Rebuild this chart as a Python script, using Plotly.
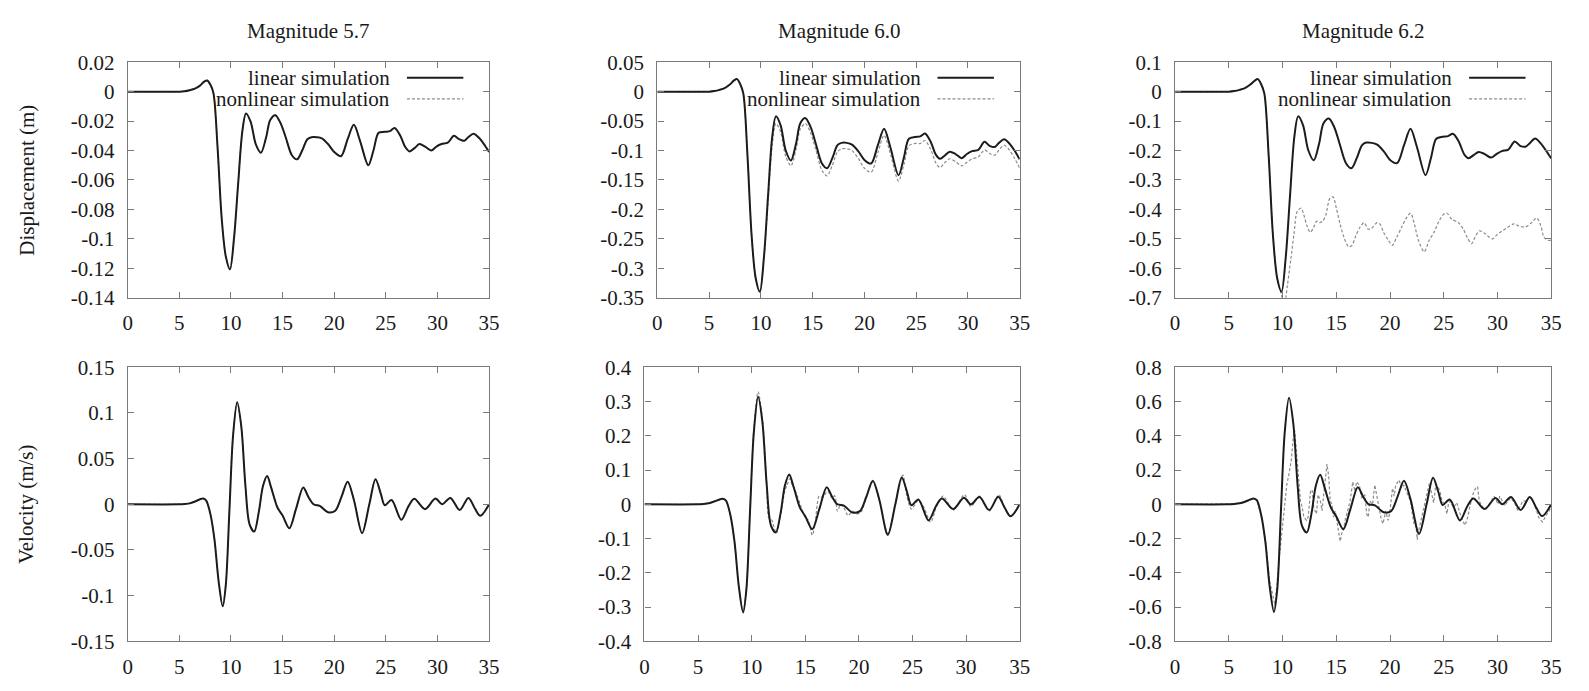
import plotly.graph_objects as go

W, H = 1589, 691

# ---------------- data ----------------
# shared time grid for the displacement curves
t_disp = [0, 5, 5.5, 6, 6.5, 7, 7.4, 7.7, 8.0, 8.3,
          8.7, 9.1, 9.5, 9.9, 10.3, 10.7, 11.1, 11.45, 11.9, 12.4,
          12.9, 13.4, 13.8, 14.3, 14.8, 15.3, 15.9, 16.4, 16.9, 17.4,
          17.8, 18.3, 18.8, 19.4, 20.0, 20.65, 21.3, 21.9, 22.5, 23.3,
          23.8, 24.3, 24.9, 25.4, 25.85, 26.4, 26.9, 27.3, 27.8, 28.25,
          28.8, 29.4, 29.9, 30.4, 31.0, 31.6, 32.1, 32.6, 33.0, 33.5,
          34.0, 34.5, 35]

disp_lin_57 = [0, 0, 0.0003, 0.001, 0.002, 0.0041, 0.0068, 0.0076, 0.0048, -0.001,
               -0.038, -0.086, -0.112, -0.1207, -0.099, -0.062, -0.027, -0.0148, -0.0203, -0.0356,
               -0.0415, -0.0312, -0.0192, -0.016, -0.0214, -0.031, -0.0432, -0.046, -0.040, -0.0323,
               -0.031, -0.031, -0.0317, -0.0356, -0.041, -0.0439, -0.0323, -0.0225, -0.0334, -0.050,
               -0.040, -0.028, -0.0273, -0.0268, -0.0247, -0.030, -0.0378, -0.0406, -0.0382, -0.0356,
               -0.0373, -0.040, -0.0373, -0.0356, -0.0347, -0.030, -0.0323, -0.0334, -0.0308, -0.0286,
               -0.0312, -0.0356, -0.041]
disp_nl_57 = list(disp_lin_57)  # coincides with the linear curve

disp_lin_60 = [0, 0, 0.001, 0.003, 0.006, 0.012, 0.019, 0.0213, 0.013, -0.003,
               -0.107, -0.243, -0.317, -0.340, -0.280, -0.175, -0.076, -0.042, -0.057, -0.10,
               -0.117, -0.088, -0.054, -0.045, -0.060, -0.088, -0.122, -0.130, -0.113, -0.091,
               -0.087, -0.087, -0.090, -0.101, -0.116, -0.122, -0.091, -0.063, -0.094, -0.142,
               -0.113, -0.080, -0.077, -0.076, -0.071, -0.085, -0.107, -0.114, -0.108, -0.102,
               -0.106, -0.113, -0.106, -0.101, -0.099, -0.085, -0.092, -0.094, -0.087, -0.081,
               -0.088, -0.100, -0.115]

disp_nl_60 = [0, 0, 0.001, 0.003, 0.006, 0.012, 0.019, 0.0213, 0.013, -0.003,
              -0.107, -0.243, -0.317, -0.340, -0.282, -0.185, -0.09, -0.054, -0.068, -0.11,
              -0.126, -0.098, -0.064, -0.054, -0.07, -0.098, -0.134, -0.143, -0.125, -0.102,
              -0.097, -0.097, -0.1, -0.113, -0.13, -0.137, -0.104, -0.074, -0.105, -0.152,
              -0.125, -0.092, -0.088, -0.088, -0.083, -0.098, -0.121, -0.129, -0.12, -0.114,
              -0.119, -0.126, -0.12, -0.114, -0.111, -0.099, -0.105, -0.108, -0.099, -0.091,
              -0.099, -0.113, -0.13]

disp_lin_62 = [0, 0, 0.002, 0.006, 0.012, 0.024, 0.037, 0.0426, 0.026, -0.006,
               -0.214, -0.486, -0.634, -0.680, -0.56, -0.35, -0.152, -0.084, -0.114, -0.20,
               -0.233, -0.176, -0.108, -0.091, -0.12, -0.176, -0.243, -0.260, -0.226, -0.182,
               -0.173, -0.174, -0.18, -0.202, -0.232, -0.243, -0.182, -0.126, -0.188, -0.284,
               -0.226, -0.16, -0.153, -0.151, -0.143, -0.17, -0.213, -0.226, -0.215, -0.205,
               -0.212, -0.224, -0.212, -0.202, -0.197, -0.169, -0.184, -0.187, -0.175, -0.159,
               -0.175, -0.20, -0.227]

t_disp_nl_62 = [0, 5, 5.5, 6, 6.5, 7, 7.4, 7.7, 8.0, 8.3,
                8.7, 9.1, 9.5, 9.9, 10.15, 10.45, 10.76, 11.06, 11.36, 11.73,
                11.97, 12.27, 12.58, 12.88, 13.18, 13.42, 13.73, 14.03, 14.39, 14.7,
                15.0, 15.36, 15.76, 16.15, 16.45, 16.82, 17.18, 17.58, 17.97, 18.33,
                18.79, 19.09, 19.39, 19.85, 20.21, 20.61, 21.06, 21.52, 21.91, 22.27,
                22.64, 23.18, 23.64, 24.09, 24.55, 25.0, 25.3, 25.76, 26.36, 26.82,
                27.18, 27.58, 27.97, 28.33, 28.79, 29.24, 29.55, 30.0, 30.45, 30.91,
                31.52, 31.97, 32.58, 33.18, 33.64, 34.03, 34.33, 34.7, 35]
disp_nl_62 = [0, 0, 0.002, 0.006, 0.012, 0.024, 0.037, 0.0426, 0.026, -0.006,
              -0.214, -0.486, -0.634, -0.69, -0.73, -0.658, -0.571, -0.484, -0.407, -0.396,
              -0.418, -0.456, -0.478, -0.462, -0.44, -0.445, -0.44, -0.418, -0.363, -0.358,
              -0.396, -0.451, -0.5, -0.527, -0.522, -0.489, -0.462, -0.445, -0.467, -0.462,
              -0.445, -0.451, -0.478, -0.505, -0.522, -0.495, -0.462, -0.429, -0.413, -0.451,
              -0.505, -0.544, -0.505, -0.478, -0.44, -0.416, -0.413, -0.434, -0.445, -0.467,
              -0.495, -0.516, -0.489, -0.473, -0.481, -0.495, -0.5, -0.484, -0.473, -0.462,
              -0.449, -0.456, -0.46, -0.445, -0.429, -0.456, -0.495, -0.505, -0.505]

# shared time grid for the linear velocity curves
t_vel = [0, 5, 5.5, 6, 6.5, 7, 7.3, 7.6, 8.0, 8.4,
         8.8, 9.2, 9.5, 9.85, 10.2, 10.6, 11.0, 11.4, 11.8, 12.25,
         12.7, 13.1, 13.5, 13.9, 14.5, 15.0, 15.65, 16.3, 17.0, 17.5,
         18.0, 18.6, 19.4, 20.1, 20.7, 21.3, 21.9, 22.7, 23.4, 24.0,
         24.5, 24.9, 25.55, 26.5, 27.2, 27.75, 28.8, 29.8, 30.45, 31.25,
         32.15, 33.0, 33.6, 34.15, 35]

vel_lin_57 = [0, 0, 0.0003, 0.001, 0.003, 0.0055, 0.0063, 0.004, -0.0105, -0.0386,
              -0.084, -0.1117, -0.088, -0.006, 0.075, 0.1117, 0.085, 0.02, -0.022, -0.0299,
              -0.008, 0.02, 0.0309, 0.018, -0.0035, -0.0123, -0.0263, -0.005, 0.0183, 0.008,
              0.0, -0.0018, -0.0088, -0.007, 0.008, 0.0246, 0.005, -0.0316, 0.0, 0.0274,
              0.012, -0.001, 0.0046, -0.0169, -0.002, 0.006, -0.0053, 0.0063, 0.0, 0.007,
              -0.0063, 0.007, -0.004, -0.0126, 0.0]
vel_nl_57 = list(vel_lin_57)  # coincides with the linear curve

vel_lin_60 = [0, 0, 0.001, 0.003, 0.008, 0.014, 0.016, 0.011, -0.03, -0.11,
              -0.24, -0.316, -0.25, -0.017, 0.21, 0.314, 0.24, 0.057, -0.062, -0.082,
              -0.025, 0.055, 0.087, 0.052, -0.01, -0.035, -0.073, -0.015, 0.05, 0.022,
              0.0, -0.004, -0.024, -0.02, 0.022, 0.069, 0.014, -0.089, 0.0, 0.078,
              0.035, -0.003, 0.014, -0.047, -0.005, 0.017, -0.014, 0.019, 0.0, 0.021,
              -0.017, 0.022, -0.01, -0.035, 0.0]

vel_lin_62 = [0, 0, 0.002, 0.006, 0.015, 0.028, 0.034, 0.024, -0.06, -0.22,
              -0.48, -0.628, -0.5, -0.035, 0.42, 0.622, 0.47, 0.11, -0.125, -0.165,
              -0.05, 0.11, 0.172, 0.1, -0.02, -0.072, -0.146, -0.03, 0.099, 0.044,
              0.0, -0.006, -0.047, -0.04, 0.045, 0.137, 0.03, -0.172, 0.0, 0.155,
              0.07, -0.004, 0.028, -0.094, -0.01, 0.034, -0.028, 0.037, 0.0, 0.043,
              -0.034, 0.043, -0.02, -0.069, 0.0]

t_vel_nl_60 = [0, 5, 5.5, 6, 6.5, 7, 7.3, 7.6, 8.0, 8.4,
               8.8, 9.2, 9.5, 9.85, 10.2, 10.6, 11.0, 11.4, 11.6, 11.85,
               12.3, 12.7, 13.1, 13.3, 13.55, 13.8, 14.0, 14.3, 14.7, 15.0,
               15.25, 15.65, 15.9, 16.3, 16.6, 17.1, 17.5, 17.75, 18.0, 18.3,
               18.6, 19.0, 19.4, 19.8, 20.2, 20.7, 21.3, 21.9, 22.7, 23.4,
               24.1, 24.5, 24.9, 25.5, 26.0, 26.7, 27.2, 27.85, 28.8, 29.85,
               30.45, 31.25, 32.15, 33.05, 33.6, 34.15, 35]
vel_nl_60 = [0, 0, 0.001, 0.003, 0.008, 0.014, 0.016, 0.011, -0.03, -0.11,
             -0.24, -0.312, -0.25, -0.01, 0.22, 0.328, 0.25, 0.06, -0.04, -0.045,
             -0.085, -0.03, 0.04, 0.056, 0.075, 0.055, 0.045, 0.02, -0.015, -0.04,
             -0.045, -0.09, -0.06, 0.024, 0.02, 0.038, 0.018, 0.025, -0.02, 0.0,
             -0.01, -0.033, -0.02, -0.028, -0.023, 0.022, 0.065, 0.012, -0.085, 0.0,
             0.085, 0.02, -0.014, 0.01, -0.005, -0.052, -0.01, 0.024, -0.017, 0.028,
             -0.006, 0.024, -0.02, 0.028, -0.01, -0.035, 0.0]

t_vel_nl_62 = [0, 5, 5.5, 6, 6.5, 7, 7.3, 7.6, 8.0, 8.4,
               8.8, 9.3, 9.68, 9.89, 10.14, 10.39, 10.6, 10.82, 11.0, 11.12,
               11.3, 11.52, 11.67, 11.83, 11.98, 12.23, 12.38, 12.6, 12.75, 12.9,
               13.15, 13.3, 13.52, 13.67, 13.82, 13.98, 14.13, 14.28, 14.44, 14.59,
               14.74, 14.9, 15.05, 15.2, 15.36, 15.51, 15.67, 15.82, 15.97, 16.28,
               16.53, 16.74, 16.89, 17.14, 17.35, 17.66, 17.82, 17.97, 18.12, 18.37,
               18.58, 18.74, 18.98, 19.2, 19.35, 19.6, 19.81, 19.96, 20.23, 20.38,
               20.53, 20.84, 21.09, 21.3, 21.51, 21.7, 21.91, 22.07, 22.22, 22.37,
               22.53, 22.68, 22.84, 22.99, 23.23, 23.45, 23.66, 23.91, 24.06, 24.22,
               24.52, 24.68, 24.83, 25.08, 25.29, 25.45, 25.6, 25.91, 26.21, 26.52,
               26.73, 26.98, 27.23, 27.44, 27.75, 27.96, 28.15, 28.3, 28.52, 28.82,
               29.13, 29.44, 29.68, 29.9, 30.05, 30.2, 30.42, 30.67, 30.97, 31.22,
               31.59, 31.89, 32.05, 32.35, 32.66, 32.97, 33.12, 33.43, 33.89, 34.2,
               34.5, 34.81, 35]
vel_nl_62 = [0, 0, 0.002, 0.006, 0.015, 0.028, 0.034, 0.024, -0.06, -0.21,
             -0.45, -0.59, -0.32, -0.188, -0.056, 0.113, 0.178, 0.263, 0.394, 0.432,
             0.30, 0.113, 0.018, -0.019, -0.075, -0.094, -0.075, 0.075, 0.085, -0.019,
             -0.056, 0.056, 0.018, -0.038, 0.056, 0.169, 0.235, 0.169, 0.018, 0.0,
             -0.075, -0.038, -0.094, -0.15, -0.216, -0.169, -0.15, -0.094, -0.056, 0.018,
             0.131, 0.075, 0.131, 0.113, 0.037, 0.056, -0.056, -0.075, 0.018, 0.0,
             0.113, 0.056, -0.038, -0.094, -0.113, -0.038, -0.094, -0.056, 0.094, 0.047,
             0.113, 0.141, 0.094, 0.113, 0.075, 0.047, 0.019, -0.056, -0.113, -0.094,
             -0.207, -0.15, -0.103, -0.056, 0.019, 0.066, 0.122, 0.047, 0.009, 0.094,
             0.094, 0.066, 0.019, 0.0, -0.056, 0.009, 0.019, -0.019, 0.009, -0.056,
             -0.094, -0.122, -0.075, -0.009, 0.066, 0.094, 0.103, 0.019, -0.009, -0.028,
             -0.009, 0.019, 0.047, 0.019, 0.0, 0.047, 0.019, -0.009, 0.019, 0.037,
             0.009, -0.038, -0.019, 0.019, 0.019, 0.047, 0.037, 0.0, -0.085, -0.103,
             -0.066, -0.038, -0.01]

# ticks
x_ticks = [0, 5, 10, 15, 20, 25, 30, 35]
x_tick_labels = ["0", "5", "10", "15", "20", "25", "30", "35"]
disp57_ticks = [-0.14, -0.12, -0.1, -0.08, -0.06, -0.04, -0.02, 0, 0.02]
disp57_labels = ["-0.14", "-0.12", "-0.1", "-0.08", "-0.06", "-0.04", "-0.02", "0", "0.02"]
disp60_ticks = [-0.35, -0.3, -0.25, -0.2, -0.15, -0.1, -0.05, 0, 0.05]
disp60_labels = ["-0.35", "-0.3", "-0.25", "-0.2", "-0.15", "-0.1", "-0.05", "0", "0.05"]
disp62_ticks = [-0.7, -0.6, -0.5, -0.4, -0.3, -0.2, -0.1, 0, 0.1]
disp62_labels = ["-0.7", "-0.6", "-0.5", "-0.4", "-0.3", "-0.2", "-0.1", "0", "0.1"]
vel57_ticks = [-0.15, -0.1, -0.05, 0, 0.05, 0.1, 0.15]
vel57_labels = ["-0.15", "-0.1", "-0.05", "0", "0.05", "0.1", "0.15"]
vel60_ticks = [-0.4, -0.3, -0.2, -0.1, 0, 0.1, 0.2, 0.3, 0.4]
vel60_labels = ["-0.4", "-0.3", "-0.2", "-0.1", "0", "0.1", "0.2", "0.3", "0.4"]
vel62_ticks = [-0.8, -0.6, -0.4, -0.2, 0, 0.2, 0.4, 0.6, 0.8]
vel62_labels = ["-0.8", "-0.6", "-0.4", "-0.2", "0", "0.2", "0.4", "0.6", "0.8"]

titles = ["Magnitude 5.7", "Magnitude 6.0", "Magnitude 6.2"]
row_titles = ["Displacement (m)", "Velocity (m/s)"]
legend_names = ["linear simulation", "nonlinear simulation"]

# ---------------- styling ----------------
FONT = "'Liberation Serif', 'Times New Roman', Times, 'DejaVu Serif', serif"
FS = 21
TXT = "#1a1a1a"
FRAME = "#7a7a7a"
LIN_STYLE = dict(color="#1c1c1c", width=2.0, shape="spline", smoothing=0.9)
NL_STYLE = dict(color="#8c8c8c", width=1.2, dash="3px,2px")


def px_x(p):
    return p / W


def px_y(p):
    return 1 - p / H


panels = [
    dict(xd=(124, 489), yd=(52, 296), yr=(-0.14, 0.02), yt=disp57_ticks, yl=disp57_labels,
         nl=(t_disp, disp_nl_57), lin=(t_disp, disp_lin_57), nl_spline=True),
    dict(xd=(659, 1025), yd=(52, 296), yr=(-0.35, 0.05), yt=disp60_ticks, yl=disp60_labels,
         nl=(t_disp, disp_nl_60), lin=(t_disp, disp_lin_60), nl_spline=True),
    dict(xd=(1182, 1562), yd=(52, 296), yr=(-0.7, 0.1), yt=disp62_ticks, yl=disp62_labels,
         nl=(t_disp_nl_62, disp_nl_62), lin=(t_disp, disp_lin_62), nl_spline=True),
    dict(xd=(124, 489), yd=(368, 652), yr=(-0.15, 0.15), yt=vel57_ticks, yl=vel57_labels,
         nl=(t_vel, vel_nl_57), lin=(t_vel, vel_lin_57), nl_spline=True),
    dict(xd=(646, 1025), yd=(368, 652), yr=(-0.4, 0.4), yt=vel60_ticks, yl=vel60_labels,
         nl=(t_vel_nl_60, vel_nl_60), lin=(t_vel, vel_lin_60), nl_spline=True),
    dict(xd=(1182, 1562), yd=(368, 652), yr=(-0.8, 0.8), yt=vel62_ticks, yl=vel62_labels,
         nl=(t_vel_nl_62, vel_nl_62), lin=(t_vel, vel_lin_62), nl_spline=False),
]

fig = go.Figure()
layout = {}
for i, p in enumerate(panels, start=1):
    sx = "" if i == 1 else str(i)
    xa, ya = "x" + sx, "y" + sx
    nl_line = dict(NL_STYLE)
    if p["nl_spline"]:
        nl_line.update(shape="spline", smoothing=0.8)
    fig.add_trace(go.Scatter(x=p["nl"][0], y=p["nl"][1], xaxis=xa, yaxis=ya, mode="lines",
                             line=nl_line, name=legend_names[1], showlegend=False,
                             hoverinfo="skip"))
    fig.add_trace(go.Scatter(x=p["lin"][0], y=p["lin"][1], xaxis=xa, yaxis=ya, mode="lines",
                             line=LIN_STYLE, name=legend_names[0], showlegend=False,
                             hoverinfo="skip"))
    common = dict(showline=True, linecolor=FRAME, linewidth=1.3, mirror="ticks",
                  ticks="inside", ticklen=6, tickwidth=1.2, tickcolor=FRAME,
                  showgrid=False, zeroline=False,
                  tickfont=dict(family=FONT, size=FS, color=TXT))
    layout["xaxis" + sx] = dict(domain=[px_x(p["xd"][0]), px_x(p["xd"][1])], anchor=ya,
                                range=[0, 35], tickmode="array", tickvals=x_ticks,
                                ticktext=x_tick_labels, ticklabelstandoff=6, **common)
    layout["yaxis" + sx] = dict(domain=[px_y(p["yd"][1]), px_y(p["yd"][0])], anchor=xa,
                                range=list(p["yr"]), tickmode="array", tickvals=p["yt"],
                                ticktext=p["yl"], ticklabelstandoff=8, **common)

annotations = []
shapes = []
afont = dict(family=FONT, size=FS, color=TXT)
for c in range(3):
    p = panels[c]
    xc = (p["xd"][0] + p["xd"][1]) / 2
    annotations.append(dict(text=titles[c], x=px_x(xc), y=px_y(20), xref="paper", yref="paper",
                            xanchor="center", yanchor="middle", showarrow=False, font=afont))
    r = p["xd"][1]
    for k, (yy, name) in enumerate(zip((68, 90), legend_names)):
        annotations.append(dict(text=name, x=px_x(r - 98), y=px_y(yy), xref="paper", yref="paper",
                                xanchor="right", yanchor="middle", showarrow=False, font=afont))
        st = dict(LIN_STYLE) if k == 0 else dict(NL_STYLE)
        st.pop("shape", None)
        st.pop("smoothing", None)
        shapes.append(dict(type="line", xref="paper", yref="paper",
                           x0=px_x(r - 83), x1=px_x(r - 26), y0=px_y(yy), y1=px_y(yy),
                           line=st))

for yc, name in zip((174, 510), row_titles):
    annotations.append(dict(text=name, x=px_x(22), y=px_y(yc), xref="paper", yref="paper",
                            xanchor="center", yanchor="middle", textangle=-90,
                            showarrow=False, font=afont))

fig.update_layout(width=W, height=H, autosize=False,
                  margin=dict(l=0, r=0, t=0, b=0),
                  paper_bgcolor="white", plot_bgcolor="white",
                  showlegend=False, annotations=annotations, shapes=shapes,
                  font=dict(family=FONT, size=FS, color=TXT), **layout)

fig.write_html("out.html")
